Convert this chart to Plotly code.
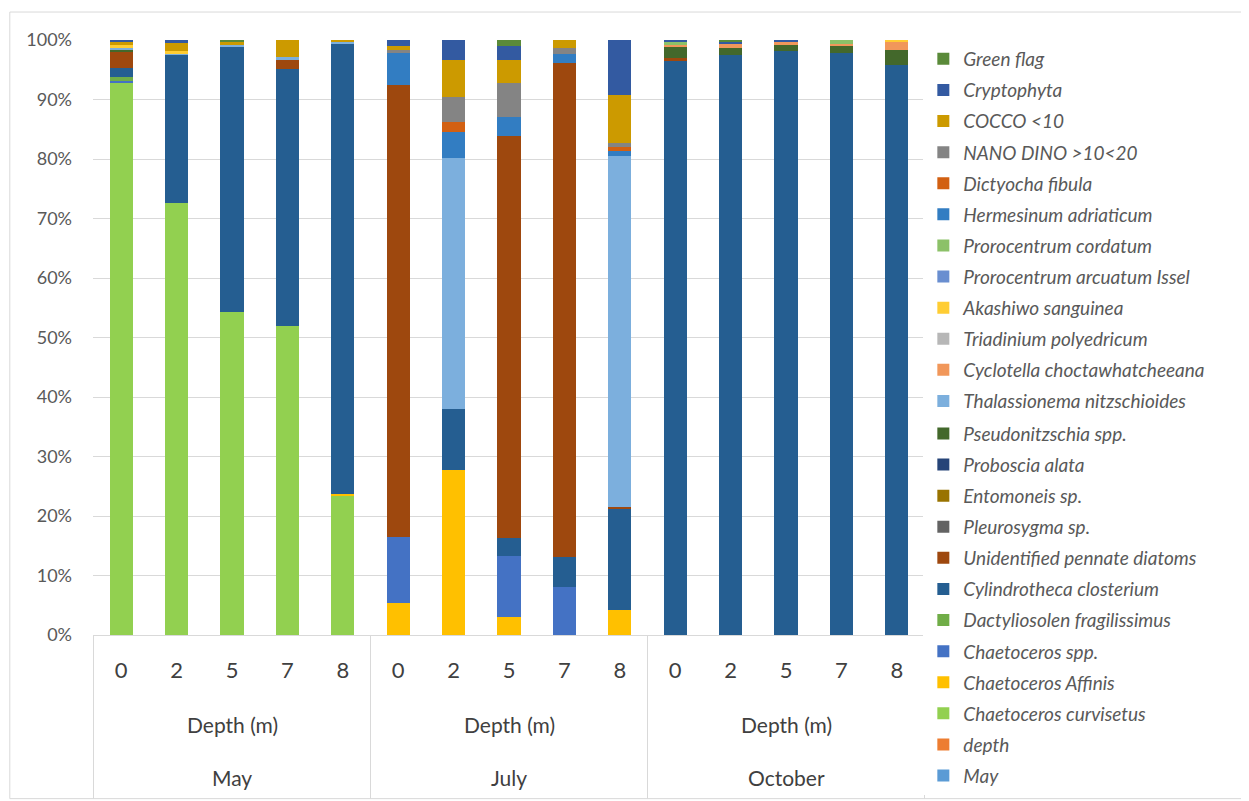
import plotly.graph_objects as go

# Sample layout: month x depth
months = ["May", "July", "October"]
depths = ["0", "2", "5", "7", "8"]

# Relative abundance (%) per taxon, stack order bottom -> top
# order of values: May 0,2,5,7,8 | July 0,2,5,7,8 | October 0,2,5,7,8
may_col =            [0, 0, 0, 0, 0,     0, 0, 0, 0, 0,       0, 0, 0, 0, 0]
depth_col =          [0, 0, 0, 0, 0,     0, 0, 0, 0, 0,       0, 0, 0, 0, 0]
ch_curvisetus =      [93.0, 72.6, 54.3, 52.0, 23.5,  0, 0, 0, 0, 0,  0, 0, 0, 0, 0]
ch_affinis =         [0, 0, 0, 0, 0.2,   5.4, 27.8, 3.0, 0, 4.2,   0, 0, 0, 0, 0]
ch_spp =             [0.2, 0, 0, 0, 0,   11.1, 0, 10.3, 8.1, 0,    0, 0, 0, 0, 0]
dactyliosolen =      [0.6, 0, 0, 0, 0,   0, 0, 0, 0, 0,           0, 0, 0, 0, 0]
cylindrotheca =      [1.6, 24.8, 44.5, 43.1, 75.7,  0, 10.2, 3.0, 5.0, 17.0,  96.5, 97.5, 98.2, 97.9, 95.8]
pennate =            [2.8, 0, 0, 1.5, 0,  76.0, 0, 67.6, 83.0, 0.3,  0.4, 0, 0, 0, 0]
pleurosygma =        [0, 0, 0, 0, 0,     0, 0, 0, 0, 0,       0, 0, 0, 0, 0]
entomoneis =         [0, 0, 0, 0, 0,     0, 0, 0, 0, 0,       0, 0, 0, 0, 0]
proboscia =          [0, 0, 0, 0, 0,     0, 0, 0, 0, 0,       0, 0, 0, 0, 0]
pseudonitzschia =    [0.3, 0, 0, 0, 0,   0, 0, 0, 0, 0,       2.0, 1.2, 1.0, 1.1, 2.6]
thalassionema =      [0.4, 0.4, 0.4, 0.6, 0.2,  0, 42.1, 0, 0, 59.0,  0, 0, 0, 0, 0]
cyclotella =         [0, 0, 0, 0, 0,     0, 0, 0, 0, 0,       0.3, 0.6, 0.5, 0.3, 1.3]
triadinium =         [0, 0, 0, 0, 0,     0, 0, 0, 0, 0,       0, 0, 0, 0, 0]
akashiwo =           [0.3, 0.3, 0, 0, 0,  0, 0, 0, 0, 0,      0, 0, 0, 0, 0.3]
pror_arcuatum =      [0, 0, 0, 0, 0,     0, 0, 0, 0, 0,       0, 0, 0, 0, 0]
pror_cordatum =      [0, 0, 0, 0, 0,     0, 0, 0, 0, 0,       0.6, 0, 0, 0.7, 0]
hermesinum =         [0, 0, 0, 0, 0,     5.3, 4.5, 3.1, 1.5, 0.9,  0, 0, 0, 0, 0]
dictyocha =          [0, 0, 0, 0, 0,     0, 1.7, 0, 0, 0.7,   0, 0, 0, 0, 0]
nano_dino =          [0, 0, 0, 0, 0,     0.6, 4.1, 5.8, 1.1, 0.6,  0, 0, 0, 0, 0]
cocco =              [0.6, 1.4, 0.5, 2.8, 0.4,  0.6, 6.3, 3.8, 1.3, 8.1,  0, 0, 0, 0, 0]
cryptophyta =        [0.3, 0.5, 0, 0, 0,  1.0, 3.3, 2.4, 0, 9.2,  0.2, 0.5, 0.3, 0, 0]
green_flag =         [0, 0, 0.3, 0, 0,   0, 0, 1.0, 0, 0,     0, 0.2, 0, 0, 0]

SERIES = [
    ("May", may_col, "#5B9BD5"),
    ("depth", depth_col, "#ED7D31"),
    ("Chaetoceros curvisetus", ch_curvisetus, "#92D050"),
    ("Chaetoceros Affinis", ch_affinis, "#FFC000"),
    ("Chaetoceros spp.", ch_spp, "#4472C4"),
    ("Dactyliosolen fragilissimus", dactyliosolen, "#70AD47"),
    ("Cylindrotheca closterium", cylindrotheca, "#255E91"),
    ("Unidentified pennate diatoms", pennate, "#9E480E"),
    ("Pleurosygma sp.", pleurosygma, "#636363"),
    ("Entomoneis sp.", entomoneis, "#997300"),
    ("Proboscia alata", proboscia, "#264478"),
    ("Pseudonitzschia spp.", pseudonitzschia, "#43682B"),
    ("Thalassionema nitzschioides", thalassionema, "#7CAFDD"),
    ("Cyclotella choctawhatcheeana", cyclotella, "#F1975A"),
    ("Triadinium polyedricum", triadinium, "#B7B7B7"),
    ("Akashiwo sanguinea", akashiwo, "#FFCD33"),
    ("Prorocentrum arcuatum Issel", pror_arcuatum, "#698ED0"),
    ("Prorocentrum cordatum", pror_cordatum, "#8CC168"),
    ("Hermesinum adriaticum", hermesinum, "#327DC2"),
    ("Dictyocha fibula", dictyocha, "#D26012"),
    ("NANO DINO &gt;10&lt;20", nano_dino, "#848484"),
    ("COCCO &lt;10", cocco, "#CC9A00"),
    ("Cryptophyta", cryptophyta, "#335AA1"),
    ("Green flag", green_flag, "#5A8A39"),
]

FONT = "Lato, 'Open Sans', sans-serif"
TEXT = "#595959"
DARK = "#404040"
GRID = "#D9D9D9"

x_keys = [f"{m} {d}" for m in months for d in depths]

fig = go.Figure()
for i, (name, vals, col) in enumerate(SERIES):
    # legend is too tall for one box, so split it in two (top half / bottom half)
    fig.add_trace(go.Bar(x=x_keys, y=vals, name=name, marker_color=col,
                         marker_line_width=0, legendgroup=f"g{i}",
                         legendrank=100 - i,
                         legend="legend" if i >= 12 else "legend2"))

# group dividers and axis labels below the plot
shapes = []
for b in [-0.5, 4.5, 9.5, 14.5]:
    shapes.append(dict(type="line", xref="x", yref="paper", x0=b, x1=b,
                       y0=0, y1=-0.275, line=dict(color=GRID, width=1)))
# outer chart border
shapes.append(dict(type="rect", xref="paper", yref="paper",
                   x0=-0.1, x1=1.385, y0=-0.275, y1=1.047,
                   line=dict(color=GRID, width=1)))

annotations = []
for k, m in enumerate(months):
    mid = x_keys[k * 5 + 2]
    annotations.append(dict(x=mid, xref="x", y=-0.151, yref="paper", yanchor="middle",
                            text="Depth (m)", showarrow=False,
                            font=dict(size=21, color=DARK)))
    annotations.append(dict(x=mid, xref="x", y=-0.24, yref="paper", yanchor="middle",
                            text=m, showarrow=False, font=dict(size=21, color=DARK)))

leg = dict(traceorder="grouped", x=0.998, xanchor="left", yanchor="top",
           font=dict(size=19, color=TEXT, style="italic"),
           tracegroupgap=3.4, itemclick=False)

# page body has an 8px margin, so the figure is a little smaller than the window
fig.update_layout(
    barmode="stack",
    barnorm="percent",
    bargap=0.58,
    width=1241, height=793,
    margin=dict(l=85, r=324, t=32, b=166, autoexpand=False),
    plot_bgcolor="white",
    paper_bgcolor="white",
    font=dict(family=FONT, color=TEXT),
    shapes=shapes,
    annotations=annotations,
    legend=dict(leg, y=1.0),
    legend2=dict(leg, y=0.3704),
)
fig.update_xaxes(type="category", tickvals=x_keys, ticktext=depths * 3,
                 tickfont=dict(size=22, color=DARK), ticklabelstandoff=16,
                 showline=True, linecolor=GRID, showgrid=False)
fig.update_yaxes(range=[0, 100], dtick=10, ticksuffix="%", gridcolor=GRID,
                 tickfont=dict(size=18, color=TEXT), ticklabelstandoff=20,
                 zeroline=False, showline=False)

fig.write_html("out.html")
